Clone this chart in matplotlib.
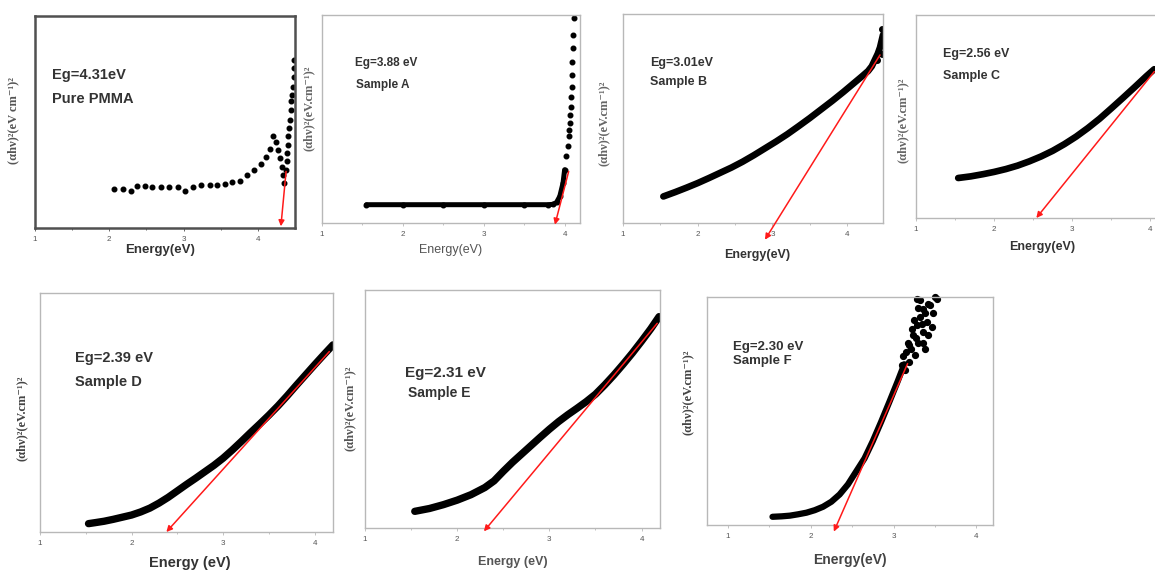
import matplotlib.pyplot as plt

W, H = 1155, 572
plt.rcParams['font.family'] = ['Liberation Sans', 'DejaVu Sans']
SERIF = ['Liberation Serif', 'DejaVu Serif']
YLAB = '(αhν)²(eV.cm⁻¹)²'

# ---- data (energy in eV, absorption in arbitrary units 0-1) ----
pmma_E = [2.07, 2.18, 2.29, 2.37, 2.48, 2.58, 2.70, 2.81, 2.92, 3.02, 3.13, 3.23, 3.35, 3.45,
          3.56, 3.65, 3.76, 3.86, 3.95, 4.04, 4.11, 4.16, 4.21, 4.24, 4.27, 4.30, 4.32, 4.34,
          4.35, 4.38, 4.39, 4.39, 4.40, 4.41, 4.42, 4.43, 4.44, 4.45, 4.46, 4.47, 4.48, 4.48, 4.49]
pmma_y = [0.185, 0.185, 0.176, 0.196, 0.200, 0.193, 0.193, 0.193, 0.193, 0.176, 0.193, 0.204,
          0.204, 0.204, 0.209, 0.215, 0.223, 0.248, 0.272, 0.303, 0.333, 0.372, 0.435, 0.408,
          0.369, 0.330, 0.290, 0.250, 0.212, 0.275, 0.314, 0.353, 0.392, 0.432, 0.471, 0.510,
          0.557, 0.597, 0.628, 0.667, 0.714, 0.754, 0.793]
pmma_fit_E = [4.38, 4.31]
pmma_fit_y = [0.267, 0.008]

a_E = [1.55, 2.0, 2.5, 3.0, 3.5, 3.80, 3.86, 3.90, 3.94, 3.98, 4.00, 4.02, 4.04, 4.05, 4.06,
       4.07, 4.07, 4.08, 4.08, 4.09, 4.09, 4.09, 4.10, 4.10, 4.11]
a_y = [0.088, 0.088, 0.088, 0.088, 0.088, 0.088, 0.090, 0.099, 0.128, 0.192, 0.256, 0.320,
       0.368, 0.416, 0.448, 0.480, 0.520, 0.560, 0.608, 0.656, 0.712, 0.776, 0.840, 0.904, 0.984]
a_fit_E = [4.05, 3.88]
a_fit_y = [0.248, -0.008]

b_E = [1.54, 1.70, 1.85, 2.00, 2.15, 2.30, 2.45, 2.60, 2.75, 2.90, 3.05, 3.20, 3.35, 3.50,
       3.65, 3.80, 3.95, 4.10, 4.20, 4.28, 4.33, 4.37, 4.41, 4.44, 4.46, 4.48]
b_y = [0.127, 0.148, 0.169, 0.191, 0.215, 0.240, 0.265, 0.293, 0.324, 0.357, 0.390, 0.425,
       0.463, 0.502, 0.543, 0.584, 0.627, 0.672, 0.702, 0.727, 0.750, 0.780, 0.810, 0.840,
       0.870, 0.900]
b_noise_E = [4.40, 4.43, 4.46, 4.48, 4.47]
b_noise_y = [0.78, 0.82, 0.81, 0.85, 0.93]
b_fit_E = [4.44, 2.90]
b_fit_y = [0.804, -0.08]

c_E = [1.54, 1.70, 1.86, 2.00, 2.15, 2.30, 2.45, 2.60, 2.75, 2.90, 3.05, 3.20, 3.35, 3.50,
       3.65, 3.80, 3.95, 4.05]
c_y = [0.197, 0.205, 0.216, 0.227, 0.241, 0.258, 0.279, 0.303, 0.331, 0.364, 0.401, 0.443,
       0.489, 0.540, 0.592, 0.645, 0.699, 0.733]
c_fit_E = [4.05, 2.54]
c_fit_y = [0.721, 0.0]

d_E = [1.53, 1.60, 1.70, 1.80, 1.90, 2.00, 2.10, 2.20, 2.30, 2.40, 2.50, 2.60, 2.70, 2.80,
       2.90, 3.00, 3.10, 3.20, 3.30, 3.40, 3.50, 3.60, 3.70, 3.80, 3.90, 4.00, 4.10, 4.20]
d_y = [0.035, 0.039, 0.045, 0.053, 0.062, 0.071, 0.084, 0.100, 0.121, 0.145, 0.172, 0.199,
       0.225, 0.252, 0.279, 0.309, 0.343, 0.379, 0.416, 0.452, 0.489, 0.528, 0.570, 0.614,
       0.657, 0.700, 0.742, 0.783]
d_fit_E = [4.16, 2.38]
d_fit_y = [0.755, 0.0]

e_E = [1.54, 1.70, 1.85, 2.00, 2.15, 2.30, 2.40, 2.50, 2.60, 2.70, 2.80, 2.90, 3.00, 3.10,
       3.20, 3.30, 3.40, 3.50, 3.60, 3.70, 3.80, 3.90, 4.00, 4.10, 4.19]
e_y = [0.070, 0.082, 0.098, 0.117, 0.140, 0.170, 0.198, 0.238, 0.276, 0.311, 0.346, 0.381,
       0.415, 0.447, 0.476, 0.503, 0.531, 0.562, 0.601, 0.643, 0.688, 0.735, 0.785, 0.837, 0.888]
e_fit_E = [4.17, 2.29]
e_fit_y = [0.86, -0.014]

f_E = [1.54, 1.65, 1.75, 1.85, 1.95, 2.05, 2.15, 2.25, 2.35, 2.45, 2.55, 2.65, 2.75, 2.85,
       2.95, 3.05, 3.13]
f_y = [0.036, 0.038, 0.041, 0.047, 0.054, 0.065, 0.080, 0.102, 0.134, 0.178, 0.235, 0.292,
       0.368, 0.452, 0.540, 0.630, 0.705]
f_noise_E = [3.10, 3.12, 3.14, 3.15, 3.17, 3.19, 3.19, 3.21, 3.22, 3.24, 3.25, 3.26, 3.27,
             3.28, 3.28, 3.30, 3.30, 3.32, 3.32, 3.34, 3.35, 3.36, 3.36, 3.38, 3.38, 3.40,
             3.42, 3.42, 3.44, 3.46, 3.48, 3.50, 3.52]
f_noise_y = [0.700, 0.740, 0.680, 0.759, 0.800, 0.788, 0.715, 0.770, 0.860, 0.832, 0.900,
             0.745, 0.820, 0.876, 0.990, 0.800, 0.950, 0.912, 0.985, 0.880, 0.800, 0.847,
             0.949, 0.774, 0.930, 0.891, 0.832, 0.970, 0.964, 0.870, 0.930, 1.000, 0.990]
f_fit_E = [3.17, 2.28]
f_fit_y = [0.708, -0.029]

fig = plt.figure(figsize=(W / 100, H / 100), dpi=100)


def panel(box, xlim, dark=False):
    x0, y0, x1, y1 = box
    ax = fig.add_axes([x0 / W, 1 - y1 / H, (x1 - x0) / W, (y1 - y0) / H])
    ax.set_xlim(xlim)
    ax.set_ylim(0, 1)
    ax.set_yticks([])
    ax.set_xticks([1, 2, 3, 4])
    ax.set_xticks([1.5, 2.5, 3.5], minor=True)
    c = '#505050' if dark else '#b8b8b8'
    for s in ax.spines.values():
        s.set_color(c)
        s.set_linewidth(1.8 if dark else 1.0)
    ax.tick_params(axis='x', which='both', direction='out', length=2.5, width=0.6,
                   colors=c, labelsize=5.8, labelcolor='#555555', pad=3)
    ax.tick_params(axis='x', which='minor', length=1.5)
    return ax


def ftext(px, py, s, **kw):
    fig.text(px / W, 1 - py / H, s, ha='center', va='center', **kw)


def fit_arrow(ax, xs, ys):
    ax.annotate('', xy=(xs[1], ys[1]), xytext=(xs[0], ys[0]), annotation_clip=False,
                arrowprops=dict(arrowstyle='-|>', color='#ff1a1a', lw=1.1,
                                mutation_scale=8.5, shrinkA=0, shrinkB=0), zorder=5)


def label(ax, x, y, s, size):
    ax.text(x, y, s, transform=ax.transAxes, fontsize=size, fontweight='bold',
            color='#333333', va='center')


def curve(ax, xs, ys, lw):
    ax.plot(xs, ys, color='black', lw=lw, solid_capstyle='round', solid_joinstyle='round')


# Pure PMMA
ax = panel((35, 16, 295, 228), (1, 4.5), dark=True)
ax.plot(pmma_E, pmma_y, 'o', color='black', ms=3.3)
fit_arrow(ax, pmma_fit_E, pmma_fit_y)
label(ax, 0.065, 0.72, 'Eg=4.31eV', 10.5)
label(ax, 0.065, 0.61, 'Pure PMMA', 10.5)
ftext(160, 250, 'Energy(eV)', fontsize=9.5, fontweight='bold', color='#333333')
ftext(13, 120, '(αhν)²(eV cm⁻¹)²', rotation=90, fontsize=9, fontweight='bold',
      color='#555555', family=SERIF)

# Sample A
ax = panel((322, 15, 580, 223), (1, 4.19))
curve(ax, a_E[:11], a_y[:11], 3.6)
ax.plot(a_E, a_y, 'o', color='black', ms=3.3)
fit_arrow(ax, a_fit_E, a_fit_y)
label(ax, 0.128, 0.77, 'Eg=3.88 eV', 8.5)
label(ax, 0.13, 0.663, 'Sample A', 8.5)
ftext(451, 250, 'Energy(eV)', fontsize=9, color='#555555')
ftext(309, 108, YLAB, rotation=90, fontsize=9, fontweight='bold', color='#666666',
      family=SERIF)

# Sample B
ax = panel((623, 14, 883, 223), (1, 4.48))
curve(ax, b_E, b_y, 4.8)
ax.plot(b_noise_E, b_noise_y, 'o', color='black', ms=4)
fit_arrow(ax, b_fit_E, b_fit_y)
label(ax, 0.104, 0.766, 'Eg=3.01eV', 9)
label(ax, 0.104, 0.675, 'Sample B', 9)
ftext(757, 255, 'Energy(eV)', fontsize=9, fontweight='bold', color='#333333')
ftext(604, 123, YLAB, rotation=90, fontsize=9, fontweight='bold', color='#666666',
      family=SERIF)

# Sample C (cut at the right edge of the picture)
ax = panel((916, 15, 1166, 218), (1, 4.2))
curve(ax, c_E, c_y, 4.8)
fit_arrow(ax, c_fit_E, c_fit_y)
label(ax, 0.108, 0.81, 'Eg=2.56 eV', 9)
label(ax, 0.108, 0.70, 'Sample C', 9)
ftext(1042, 247, 'Energy(eV)', fontsize=9, fontweight='bold', color='#333333')
ftext(903, 120, YLAB, rotation=90, fontsize=9, fontweight='bold', color='#666666',
      family=SERIF)

# Sample D
ax = panel((40, 293, 333, 532), (1, 4.2))
curve(ax, d_E, d_y, 5.3)
fit_arrow(ax, d_fit_E, d_fit_y)
label(ax, 0.12, 0.728, 'Eg=2.39 eV', 10.5)
label(ax, 0.12, 0.628, 'Sample D', 10.5)
ftext(190, 563, 'Energy (eV)', fontsize=10.5, fontweight='bold', color='#333333')
ftext(22, 418, YLAB, rotation=90, fontsize=9, fontweight='bold', color='#444444',
      family=SERIF)

# Sample E
ax = panel((365, 290, 660, 528), (1, 4.2))
curve(ax, e_E, e_y, 5.3)
fit_arrow(ax, e_fit_E, e_fit_y)
label(ax, 0.136, 0.65, 'Eg=2.31 eV', 11)
label(ax, 0.146, 0.567, 'Sample E', 10)
ftext(513, 562, 'Energy (eV)', fontsize=9, fontweight='bold', color='#555555')
ftext(350, 408, YLAB, rotation=90, fontsize=9, fontweight='bold', color='#555555',
      family=SERIF)

# Sample F
ax = panel((707, 297, 993, 525), (0.75, 4.2))
curve(ax, f_E, f_y, 4.5)
ax.plot(f_noise_E, f_noise_y, 'o', color='black', ms=4.2, mfc='black', clip_on=False)
fit_arrow(ax, f_fit_E, f_fit_y)
label(ax, 0.09, 0.78, 'Eg=2.30 eV', 9.5)
label(ax, 0.09, 0.72, 'Sample F', 9.5)
ftext(850, 560, 'Energy(eV)', fontsize=10, fontweight='bold', color='#444444')
ftext(688, 392, YLAB, rotation=90, fontsize=9, fontweight='bold', color='#444444',
      family=SERIF)

fig.savefig('out.png', dpi=100)
